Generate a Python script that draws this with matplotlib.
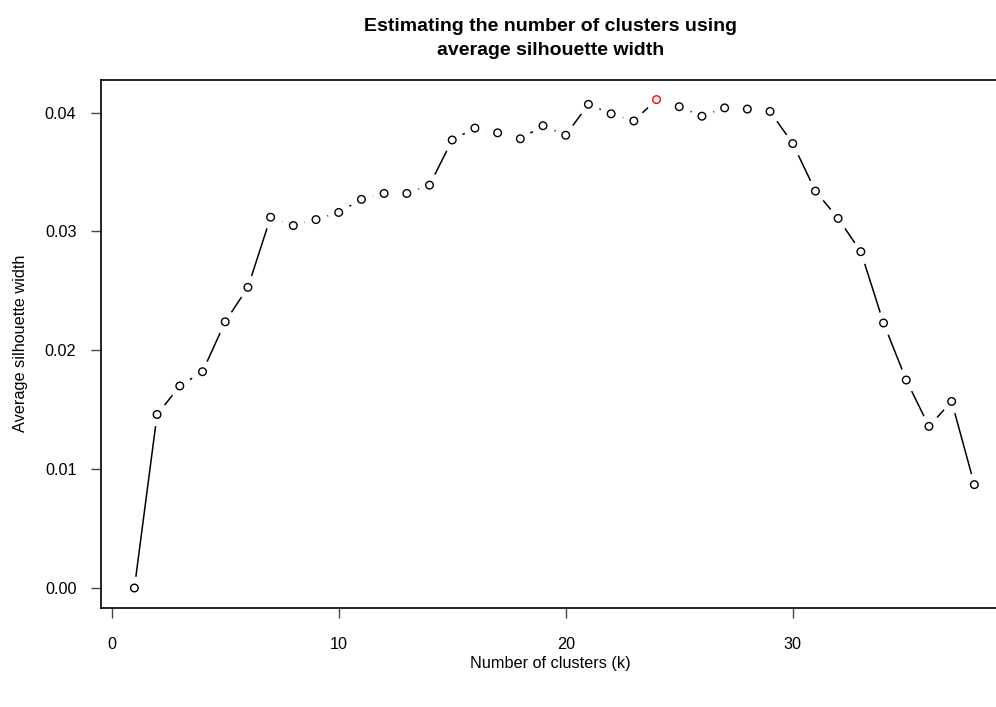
import matplotlib.pyplot as plt
import numpy as np

# Data: average silhouette width for each number of clusters
k = list(range(1, 39))
sil = [0.0000, 0.0146, 0.0170, 0.0182, 0.0224, 0.0253, 0.0312, 0.0305, 0.0310, 0.0316,
       0.0327, 0.0332, 0.0332, 0.0339, 0.0377, 0.0387, 0.0383, 0.0378, 0.0389, 0.0381,
       0.0407, 0.0399, 0.0393, 0.0411, 0.0405, 0.0397, 0.0404, 0.0403, 0.0401, 0.0374,
       0.0334, 0.0311, 0.0283, 0.0223, 0.0175, 0.0136, 0.0157, 0.0087]
xticks = [0, 10, 20, 30]
yticks = [0.00, 0.01, 0.02, 0.03, 0.04]

plt.rcParams['font.family'] = ['Liberation Sans', 'DejaVu Sans']

fig = plt.figure(figsize=(9.96, 7.07), dpi=100)
ax = fig.add_axes([0.1012, 0.1407, 0.9108, 0.7461])

x = np.array(k)
y = np.array(sil)
best = int(np.argmax(y))

# R style type="b": line with gaps around points
ax.plot(x, y, color='black', lw=1.1, zorder=1)
ax.plot(x, y, 'o', ms=17, mfc='white', mec='none', zorder=2)
cols = ['black'] * len(x)
cols[best] = 'red'
ax.scatter(x, y, s=30, facecolors='none', edgecolors=cols, linewidths=1.0, zorder=3)

# 4% range padding like R
xr = x.max() - x.min()
yr = y.max() - y.min()
ax.set_xlim(x.min() - 0.04 * xr, x.max() + 0.04 * xr)
ax.set_ylim(y.min() - 0.04 * yr, y.max() + 0.04 * yr)

ax.set_xticks(xticks)
ax.set_yticks(yticks)
ax.set_xticklabels([str(t) for t in xticks])
ax.set_yticklabels(['%.2f' % t for t in yticks])
ax.tick_params(axis='x', length=7.5, width=1, color='#444444', pad=14, labelsize=11.7)
ax.tick_params(axis='y', length=7.5, width=1, color='#444444', pad=10, labelsize=11.7)
for s in ax.spines.values():
    s.set_linewidth(1.2)

fig.text(0.553, 0.962, 'Estimating the number of clusters using', ha='center', va='center',
         fontsize=14, fontweight='bold')
fig.text(0.553, 0.928, 'average silhouette width', ha='center', va='center',
         fontsize=14, fontweight='bold')
fig.text(0.553, 0.062, 'Number of clusters (k)', ha='center', va='center', fontsize=11.7)
fig.text(0.021, 0.515, 'Average silhouette width', ha='center', va='center',
         rotation=90, fontsize=11.7)

fig.savefig('out.png', dpi=100)
